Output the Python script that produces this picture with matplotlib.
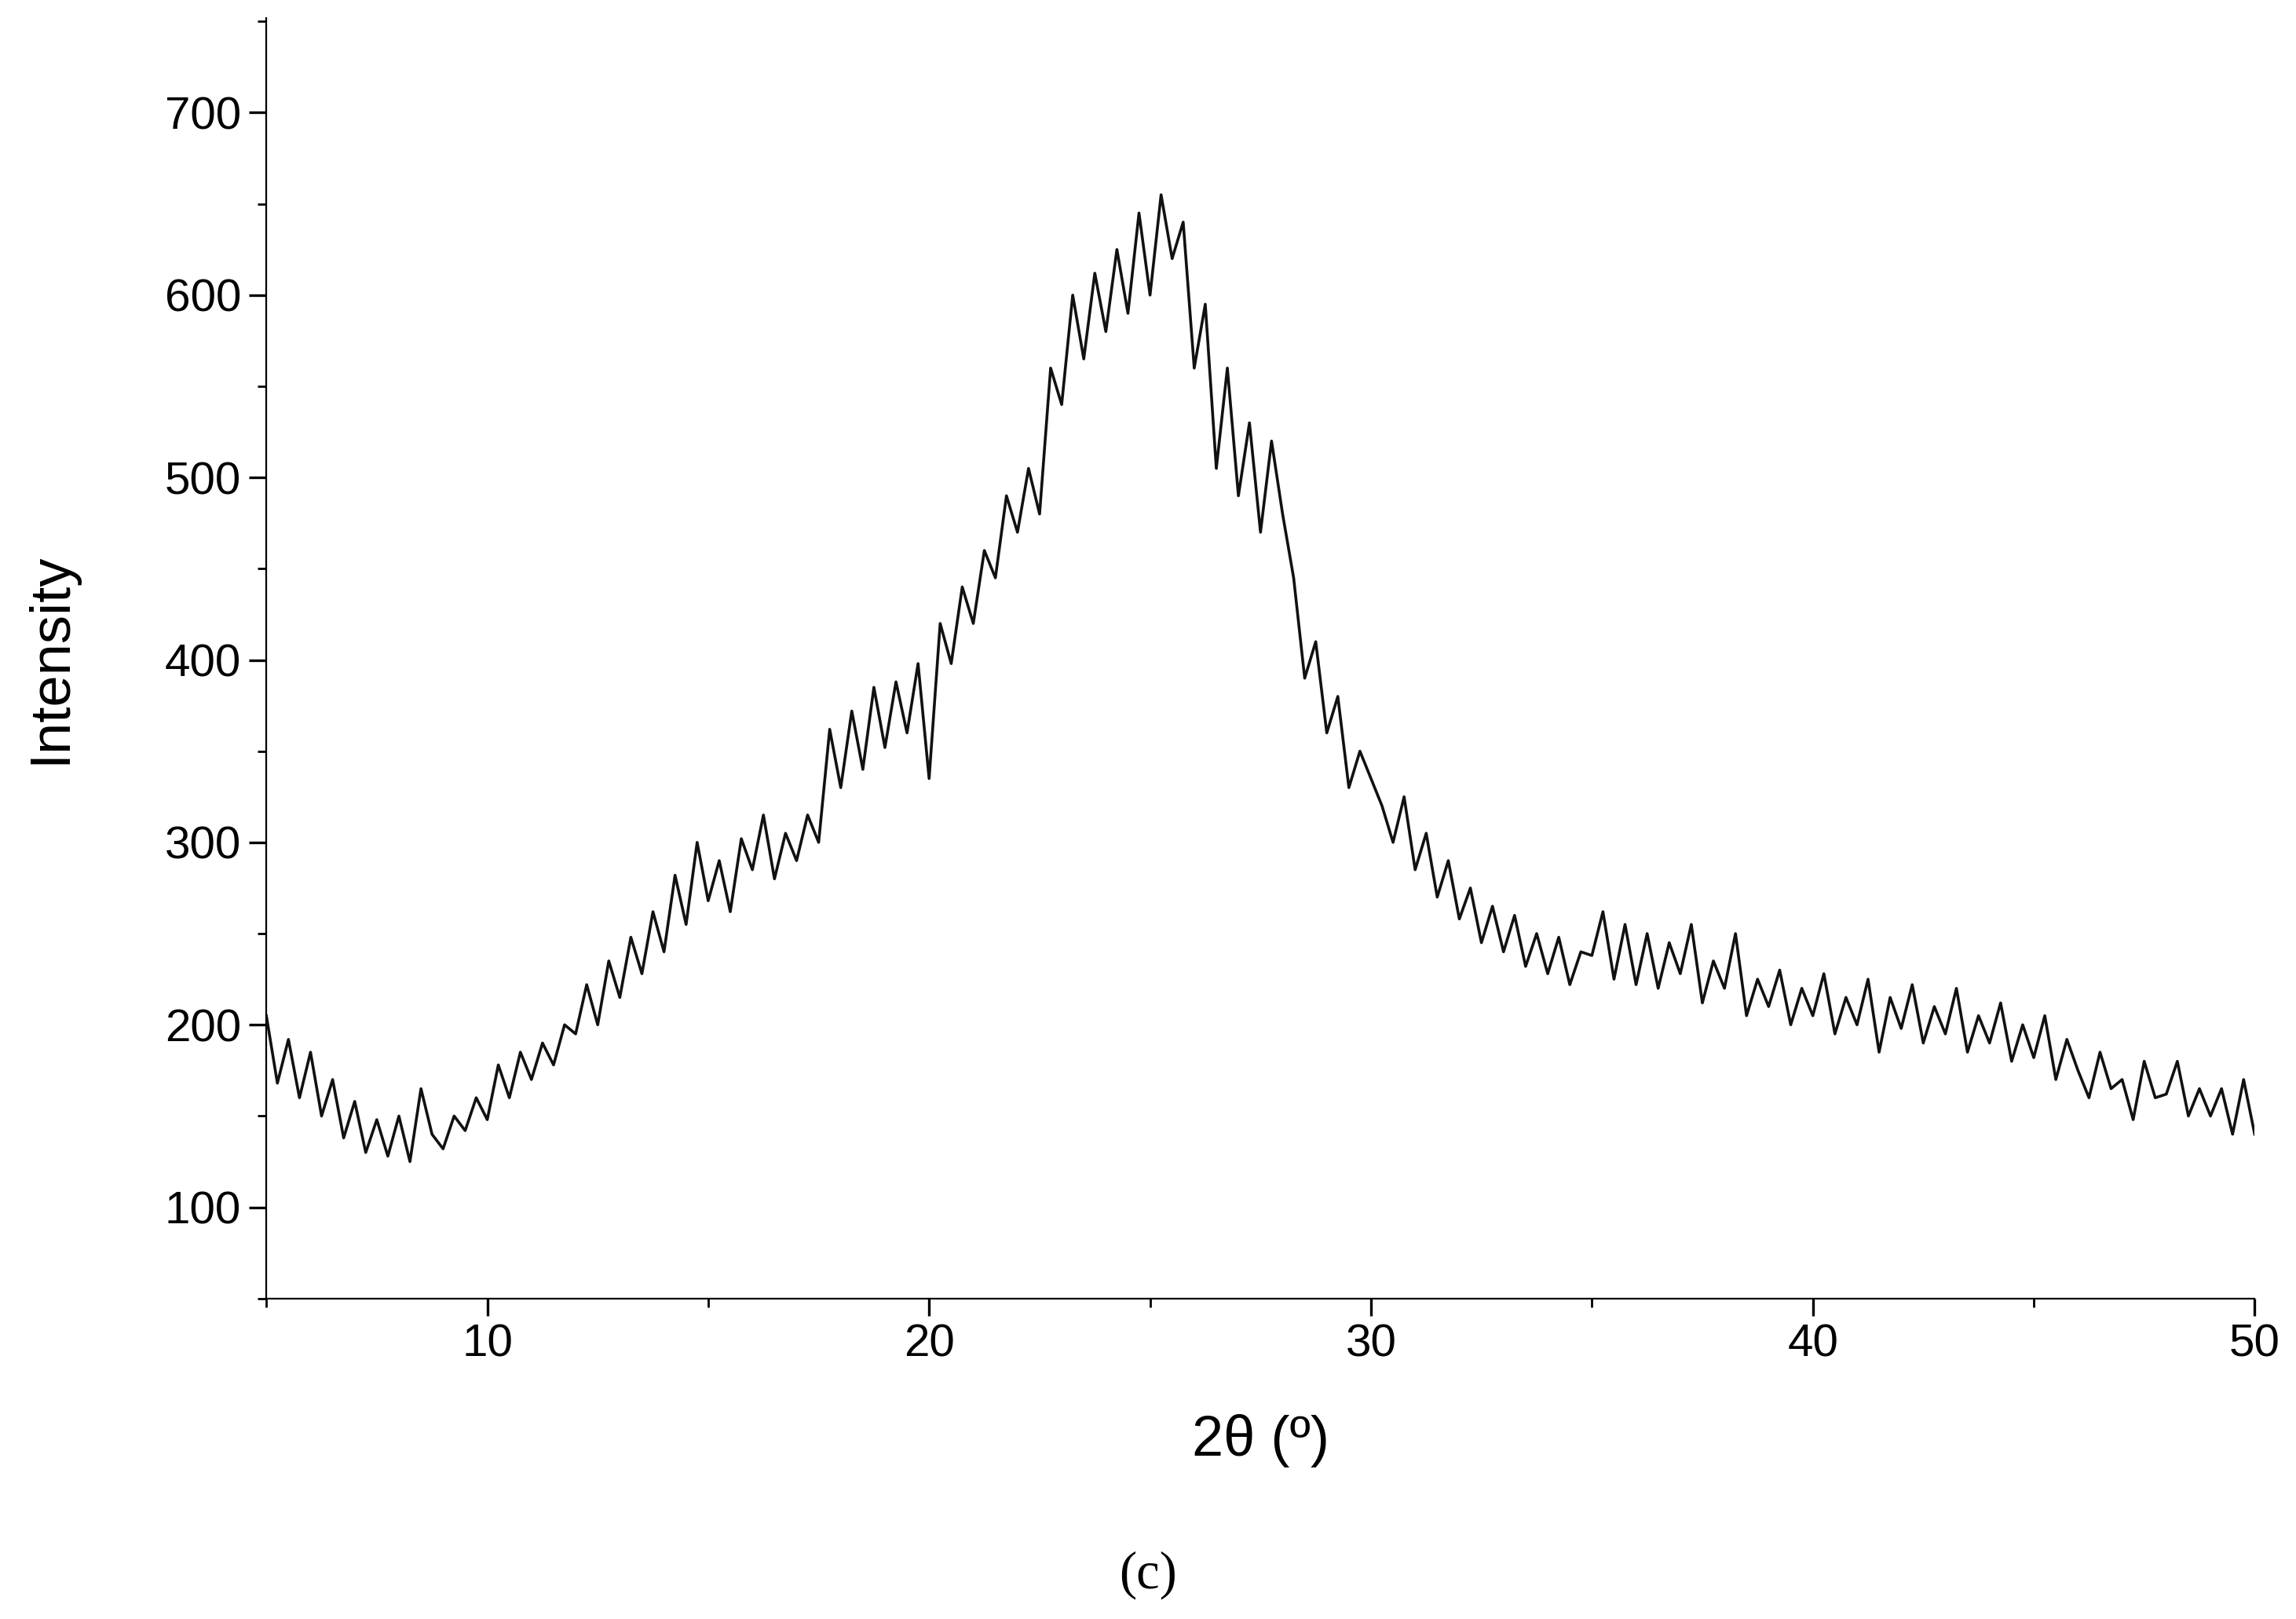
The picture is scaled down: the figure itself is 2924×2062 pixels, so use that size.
import matplotlib
matplotlib.use('Agg')
import matplotlib.pyplot as plt
import numpy as np
from matplotlib.ticker import MultipleLocator

plt.rcParams['font.family'] = ['Liberation Sans', 'DejaVu Sans']

# intensity, 0.25 deg steps from 5 to 50
two_theta = np.arange(5, 50.0001, 0.25)
intensity = [
    205,168,192,160, 185,150,170,138, 158,130,148,128, 150,125,165,140,
    132,150,142,160, 148,178,160,185, 170,190,178,200, 195,222,200,235,
    215,248,228,262, 240,282,255,300, 268,290,262,302, 285,315,280,305,
    290,315,300,362, 330,372,340,385, 352,388,360,398, 335,420,398,440,
    420,460,445,490, 470,505,480,560, 540,600,565,612, 580,625,590,645,
    600,655,620,640, 560,595,505,560, 490,530,470,520, 480,445,390,410,
    360,380,330,350, 335,320,300,325, 285,305,270,290, 258,275,245,265,
    240,260,232,250, 228,248,222,240, 238,262,225,255, 222,250,220,245,
    228,255,212,235, 220,250,205,225, 210,230,200,220, 205,228,195,215,
    200,225,185,215, 198,222,190,210, 195,220,185,205, 190,212,180,200,
    182,205,170,192, 175,160,185,165, 170,148,180,160, 162,180,150,165,
    150,165,140,170, 140,
]

fig = plt.figure(figsize=(14.62, 10.31), dpi=200)
ax = fig.add_axes([0.116, 0.198, 0.866, 0.791])
ax.plot(two_theta, intensity, color='#111111', lw=1.3)
ax.set_xlim(5, 50)
ax.set_ylim(50, 752)
ax.xaxis.set_major_locator(MultipleLocator(10))
ax.xaxis.set_minor_locator(MultipleLocator(5))
ax.yaxis.set_minor_locator(MultipleLocator(50))
ax.set_yticks([100, 200, 300, 400, 500, 600, 700])
for s in ('top', 'right'):
    ax.spines[s].set_visible(False)
ax.tick_params(which='major', length=8, width=1.2, labelsize=21)
ax.tick_params(which='minor', length=4, width=1.0)
ax.set_xlabel('2θ (º)', fontsize=26, labelpad=22)
ax.set_ylabel('Intensity', fontsize=26, labelpad=40)
fig.text(0.5, 0.012, '(c)', ha='center', va='bottom', fontsize=24,
         family='Liberation Serif')
fig.savefig('out.png')
